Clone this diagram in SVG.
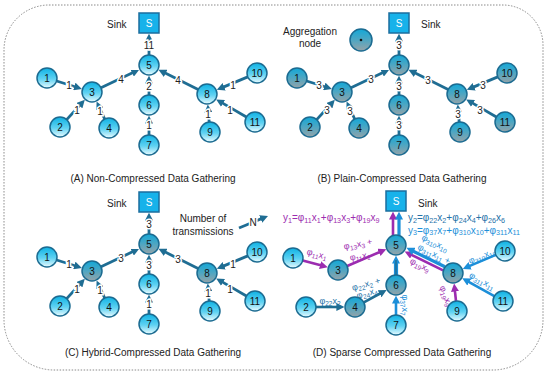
<svg xmlns="http://www.w3.org/2000/svg" width="550" height="376" viewBox="0 0 550 376">
<style>
text{font-family:"Liberation Sans",Arial,sans-serif}
.bg{fill:#fff}
.frame{fill:none;stroke:#8a8a8a;stroke-width:1;stroke-dasharray:1.5 1.5}
.c{fill:url(#gc);stroke:#1b6b91;stroke-width:1.5}
.g{fill:url(#gg);stroke:#1b6b91;stroke-width:1.5}
.nl{font-size:10px;fill:#111;text-anchor:middle;dominant-baseline:central}
.sk{fill:#17b2ea;stroke:#1b6e9e;stroke-width:1.5}
.st{font-size:10px;fill:#fff;text-anchor:middle;dominant-baseline:central}
.tx{font-size:10px;fill:#222}
.ti{font-size:10px;fill:#222;text-anchor:middle}
.e{fill:none;stroke:#1f6d93;stroke-width:2.8;marker-end:url(#aT)}
.ep{fill:none;stroke:#9c2cb0;stroke-width:2.6;marker-end:url(#aP)}
.eb{fill:none;stroke:#1c8fd9;stroke-width:2.6;marker-end:url(#aB)}
.et{fill:none;stroke:#1f6d93;stroke-width:2.6;marker-end:url(#aT)}
.lb{font-size:10px;fill:#222;stroke:#fff;stroke-width:3;paint-order:stroke;text-anchor:middle;dominant-baseline:central}
.el{font-size:9px;text-anchor:middle;dominant-baseline:central}
.eq{font-size:10px}
.s{font-size:72%}
.pu{fill:#9c2cb0}
.bl{fill:#1c8fd9}
.tl{fill:#2471a8}
</style>
<defs>
<linearGradient id="gc" x1="0" y1="0" x2="0" y2="1">
<stop offset="0" stop-color="#0fb2e4"/><stop offset="0.55" stop-color="#5fd2f2"/><stop offset="1" stop-color="#e9fbff"/>
</linearGradient>
<linearGradient id="gg" x1="0" y1="0" x2="0" y2="1">
<stop offset="0" stop-color="#12a8d8"/><stop offset="0.5" stop-color="#4ea6c2"/><stop offset="1" stop-color="#96a3a8"/>
</linearGradient>
<marker id="aT" viewBox="0 0 10 10" refX="2" refY="5" markerWidth="8" markerHeight="8" markerUnits="userSpaceOnUse" orient="auto"><path d="M0,0L10,5L0,10z" fill="#1f6d93"/></marker>
<marker id="aP" viewBox="0 0 10 10" refX="2" refY="5" markerWidth="8" markerHeight="8" markerUnits="userSpaceOnUse" orient="auto"><path d="M0,0L10,5L0,10z" fill="#9c2cb0"/></marker>
<marker id="aB" viewBox="0 0 10 10" refX="2" refY="5" markerWidth="8" markerHeight="8" markerUnits="userSpaceOnUse" orient="auto"><path d="M0,0L10,5L0,10z" fill="#1c8fd9"/></marker>
</defs>
<rect class="bg" x="0" y="0" width="550" height="376"/>
<path class="frame" d="M49,5 H503 A40,40 0 0 1 543,45 V320 A50,50 0 0 1 493,370 H54 A50,50 0 0 1 4,320 V50 A45,45 0 0 1 49,5 Z"/>

<!-- Panel A -->
<g id="panelA">
<g id="A-connectors">
<path class="e" d="M56.6,81 L75.8,87"/>
<path class="e" d="M66.7,119.6 L80.5,104.5"/>
<path class="e" d="M104.7,119 L99.3,107.4"/>
<path class="e" d="M101,87.7 L133.6,72.3"/>
<path class="e" d="M198.1,89.5 L164.2,72.6"/>
<path class="e" d="M149,95 L149,82"/>
<path class="e" d="M149,135 L149,122"/>
<path class="e" d="M149,55 L149,40"/>
<path class="e" d="M247.8,76.9 L222.7,87.4"/>
<path class="e" d="M246.4,117 L221.7,102.6"/>
<path class="e" d="M209.2,122 L208.3,110.9"/>
<text class="lb" x="69" y="85">1</text>
<text class="lb" x="77" y="110">1</text>
<text class="lb" x="100" y="111">1</text>
<text class="lb" x="121" y="79">4</text>
<text class="lb" x="178" y="80">4</text>
<text class="lb" x="149" y="86">2</text>
<text class="lb" x="149" y="125">1</text>
<text class="lb" x="149" y="45">11</text>
<text class="lb" x="233" y="85">1</text>
<text class="lb" x="230" y="110">1</text>
<text class="lb" x="208" y="114">1</text>
</g>
<g id="A-sink"><rect class="sk" x="139" y="13" width="20" height="20"/><text class="st" x="149" y="23">S</text></g>
<text class="tx" x="107" y="28">Sink</text>
<g id="A-n1"><circle class="c" cx="47" cy="78" r="10"/><text class="nl" x="47" y="78">1</text></g>
<g id="A-n2"><circle class="c" cx="60" cy="127" r="10"/><text class="nl" x="60" y="127">2</text></g>
<g id="A-n3"><circle class="c" cx="92" cy="92" r="10"/><text class="nl" x="92" y="92">3</text></g>
<g id="A-n4"><circle class="c" cx="109" cy="128" r="10"/><text class="nl" x="109" y="128">4</text></g>
<g id="A-n5"><circle class="c" cx="149" cy="65" r="10"/><text class="nl" x="149" y="65">5</text></g>
<g id="A-n6"><circle class="c" cx="149" cy="105" r="10"/><text class="nl" x="149" y="105">6</text></g>
<g id="A-n7"><circle class="c" cx="149" cy="145" r="10"/><text class="nl" x="149" y="145">7</text></g>
<g id="A-n8"><circle class="c" cx="207" cy="94" r="10"/><text class="nl" x="207" y="94">8</text></g>
<g id="A-n9"><circle class="c" cx="210" cy="132" r="10"/><text class="nl" x="210" y="132">9</text></g>
<g id="A-n10"><circle class="c" cx="257" cy="73" r="10"/><text class="nl" x="257" y="73">10</text></g>
<g id="A-n11"><circle class="c" cx="255" cy="122" r="10"/><text class="nl" x="255" y="122">11</text></g>
</g>
<text class="ti" x="153" y="182">(A) Non-Compressed Data Gathering</text>

<!-- Panel B -->
<g id="panelB" transform="translate(250,0)">
<g id="B-connectors">
<path class="e" d="M56.6,81 L75.8,87"/>
<path class="e" d="M66.7,119.6 L80.5,104.5"/>
<path class="e" d="M104.7,119 L99.3,107.4"/>
<path class="e" d="M101,87.7 L133.6,72.3"/>
<path class="e" d="M198.1,89.5 L164.2,72.6"/>
<path class="e" d="M149,95 L149,82"/>
<path class="e" d="M149,135 L149,122"/>
<path class="e" d="M149,55 L149,40"/>
<path class="e" d="M247.8,76.9 L222.7,87.4"/>
<path class="e" d="M246.4,117 L221.7,102.6"/>
<path class="e" d="M209.2,122 L208.3,110.9"/>
<text class="lb" x="69" y="85">3</text>
<text class="lb" x="77" y="110">3</text>
<text class="lb" x="100" y="111">3</text>
<text class="lb" x="121" y="79">3</text>
<text class="lb" x="178" y="80">3</text>
<text class="lb" x="149" y="86">3</text>
<text class="lb" x="149" y="125">3</text>
<text class="lb" x="149" y="45">3</text>
<text class="lb" x="233" y="85">3</text>
<text class="lb" x="230" y="110">3</text>
<text class="lb" x="208" y="114">3</text>
</g>
<g id="B-sink"><rect class="sk" x="139" y="13" width="20" height="20"/><text class="st" x="149" y="23">S</text></g>
<text class="tx" x="171" y="28">Sink</text>
<g id="B-n1"><circle class="g" cx="47" cy="78" r="10"/><text class="nl" x="47" y="78">1</text></g>
<g id="B-n2"><circle class="g" cx="60" cy="127" r="10"/><text class="nl" x="60" y="127">2</text></g>
<g id="B-n3"><circle class="g" cx="92" cy="92" r="10"/><text class="nl" x="92" y="92">3</text></g>
<g id="B-n4"><circle class="g" cx="109" cy="128" r="10"/><text class="nl" x="109" y="128">4</text></g>
<g id="B-n5"><circle class="g" cx="149" cy="65" r="10"/><text class="nl" x="149" y="65">5</text></g>
<g id="B-n6"><circle class="g" cx="149" cy="105" r="10"/><text class="nl" x="149" y="105">6</text></g>
<g id="B-n7"><circle class="g" cx="149" cy="145" r="10"/><text class="nl" x="149" y="145">7</text></g>
<g id="B-n8"><circle class="g" cx="207" cy="94" r="10"/><text class="nl" x="207" y="94">8</text></g>
<g id="B-n9"><circle class="g" cx="210" cy="132" r="10"/><text class="nl" x="210" y="132">9</text></g>
<g id="B-n10"><circle class="g" cx="257" cy="73" r="10"/><text class="nl" x="257" y="73">10</text></g>
<g id="B-n11"><circle class="g" cx="255" cy="122" r="10"/><text class="nl" x="255" y="122">11</text></g>
</g>
<g id="legend-aggregation">
<text class="ti" x="310" y="35">Aggregation</text>
<text class="ti" x="310" y="47">node</text>
<circle class="g" cx="361" cy="40" r="11"/>
<circle cx="361" cy="40" r="1.3" fill="#111"/>
</g>
<text class="ti" x="402" y="182">(B) Plain-Compressed Data Gathering</text>

<!-- Panel C -->
<g id="panelC" transform="translate(0,179)">
<g id="C-connectors">
<path class="e" d="M56.6,81 L75.8,87"/>
<path class="e" d="M66.7,119.6 L80.5,104.5"/>
<path class="e" d="M104.7,119 L99.3,107.4"/>
<path class="e" d="M101,87.7 L133.6,72.3"/>
<path class="e" d="M198.1,89.5 L164.2,72.6"/>
<path class="e" d="M149,95 L149,82"/>
<path class="e" d="M149,135 L149,122"/>
<path class="e" d="M149,55 L149,40"/>
<path class="e" d="M247.8,76.9 L222.7,87.4"/>
<path class="e" d="M246.4,117 L221.7,102.6"/>
<path class="e" d="M209.2,122 L208.3,110.9"/>
<text class="lb" x="69" y="85">1</text>
<text class="lb" x="77" y="110">1</text>
<text class="lb" x="100" y="111">1</text>
<text class="lb" x="121" y="79">3</text>
<text class="lb" x="178" y="80">3</text>
<text class="lb" x="149" y="86">3</text>
<text class="lb" x="149" y="125">1</text>
<text class="lb" x="149" y="45">3</text>
<text class="lb" x="233" y="85">1</text>
<text class="lb" x="230" y="110">1</text>
<text class="lb" x="208" y="114">1</text>
</g>
<g id="C-sink"><rect class="sk" x="139" y="13" width="20" height="20"/><text class="st" x="149" y="23">S</text></g>
<text class="tx" x="107" y="28">Sink</text>
<g id="C-n1"><circle class="c" cx="47" cy="78" r="10"/><text class="nl" x="47" y="78">1</text></g>
<g id="C-n2"><circle class="c" cx="60" cy="127" r="10"/><text class="nl" x="60" y="127">2</text></g>
<g id="C-n3"><circle class="g" cx="92" cy="92" r="10"/><text class="nl" x="92" y="92">3</text></g>
<g id="C-n4"><circle class="c" cx="109" cy="128" r="10"/><text class="nl" x="109" y="128">4</text></g>
<g id="C-n5"><circle class="g" cx="149" cy="65" r="10"/><text class="nl" x="149" y="65">5</text></g>
<g id="C-n6"><circle class="c" cx="149" cy="105" r="10"/><text class="nl" x="149" y="105">6</text></g>
<g id="C-n7"><circle class="c" cx="149" cy="145" r="10"/><text class="nl" x="149" y="145">7</text></g>
<g id="C-n8"><circle class="g" cx="207" cy="94" r="10"/><text class="nl" x="207" y="94">8</text></g>
<g id="C-n9"><circle class="c" cx="210" cy="132" r="10"/><text class="nl" x="210" y="132">9</text></g>
<g id="C-n10"><circle class="c" cx="257" cy="73" r="10"/><text class="nl" x="257" y="73">10</text></g>
<g id="C-n11"><circle class="c" cx="255" cy="122" r="10"/><text class="nl" x="255" y="122">11</text></g>
</g>
<g id="legend-transmissions">
<text class="ti" x="203" y="222">Number of</text>
<text class="ti" x="203" y="235">transmissions</text>
<path class="e" d="M239,228 L262.1,218.4"/>
<text class="lb" x="253" y="222">N</text>
</g>
<text class="ti" x="153" y="356">(C) Hybrid-Compressed Data Gathering</text>

<!-- Panel D -->
<g id="panelD">
<g id="D-connectors">
<path class="ep" d="M302.7,260.6 L321.6,265.6"/>
<path class="ep" d="M347.2,266 L380.4,251.7"/>
<path class="et" d="M316,307 L338,307"/>
<path class="et" d="M363.8,302.3 L381,293"/>
<path class="eb" d="M396,315 L396,302"/>
<path class="eb" style="stroke-width:4.2" d="M396,275 L396,262"/>
<path d="M396,275 L396,260" stroke="#1f6d93" stroke-width="1.4" fill="none"/>
<path class="ep" d="M393,235.5 L393,218"/>
<path class="eb" style="stroke-width:3.2" d="M399,235.5 L399,218"/>
<path class="ep" d="M443.1,270.4 L410.4,254.3"/>
<path class="eb" style="stroke-width:3.2" d="M444.9,266.8 L412.2,250.7"/>
<path class="eb" d="M495.8,254.9 L468.6,266.4"/>
<path class="eb" d="M494.3,296.1 L467.8,281.3"/>
<path class="ep" d="M456,301 L454.8,289.9"/>
</g>
<g id="D-labels">
<text class="el pu" transform="translate(317,254) rotate(15)">φ<tspan class="s" dy="2">11</tspan><tspan dy="-2">x</tspan><tspan class="s" dy="2">1</tspan></text>
<text class="el pu" transform="translate(358,244) rotate(-10)">φ<tspan class="s" dy="2">13</tspan><tspan dy="-2">x</tspan><tspan class="s" dy="2">3</tspan><tspan dy="-2"> +</tspan></text>
<text class="el pu" transform="translate(360,256) rotate(-8)">φ<tspan class="s" dy="2">11</tspan><tspan dy="-2">x</tspan><tspan class="s" dy="2">1</tspan></text>
<text class="el bl" transform="translate(435,243) rotate(26)">φ<tspan class="s" dy="2">310</tspan><tspan dy="-2">x</tspan><tspan class="s" dy="2">10</tspan></text>
<text class="el bl" transform="translate(434,254) rotate(26)">φ<tspan class="s" dy="2">311</tspan><tspan dy="-2">x</tspan><tspan class="s" dy="2">11</tspan><tspan dy="-2"> +</tspan></text>
<text class="el pu" transform="translate(420,265) rotate(26)">φ<tspan class="s" dy="2">19</tspan><tspan dy="-2">x</tspan><tspan class="s" dy="2">9</tspan></text>
<text class="el bl" transform="translate(482,256) rotate(-22)">φ<tspan class="s" dy="2">310</tspan><tspan dy="-2">x</tspan><tspan class="s" dy="2">10</tspan></text>
<text class="el bl" transform="translate(482,281) rotate(29)">φ<tspan class="s" dy="2">311</tspan><tspan dy="-2">x</tspan><tspan class="s" dy="2">11</tspan></text>
<text class="el pu" transform="translate(446,296) rotate(70)">φ<tspan class="s" dy="2">19</tspan><tspan dy="-2">x</tspan><tspan class="s" dy="2">9</tspan></text>
<text class="el bl" transform="translate(405,305) rotate(90)">φ<tspan class="s" dy="2">37</tspan><tspan dy="-2">x</tspan><tspan class="s" dy="2">7</tspan></text>
<text class="el tl" transform="translate(330,301)">φ<tspan class="s" dy="2">22</tspan><tspan dy="-2">x</tspan><tspan class="s" dy="2">2</tspan></text>
<text class="el tl" transform="translate(366,284) rotate(-15)">φ<tspan class="s" dy="2">22</tspan><tspan dy="-2">x</tspan><tspan class="s" dy="2">2</tspan><tspan dy="-2"> +</tspan></text>
<text class="el tl" transform="translate(367,293) rotate(-15)">φ<tspan class="s" dy="2">24</tspan><tspan dy="-2">x</tspan><tspan class="s" dy="2">4</tspan></text>
<text class="eq pu" x="283" y="221">y<tspan class="s" dy="1.5">1</tspan><tspan dy="-1.5">=φ</tspan><tspan class="s" dy="1.5">11</tspan><tspan dy="-1.5">x</tspan><tspan class="s" dy="1.5">1</tspan><tspan dy="-1.5">+φ</tspan><tspan class="s" dy="1.5">13</tspan><tspan dy="-1.5">x</tspan><tspan class="s" dy="1.5">3</tspan><tspan dy="-1.5">+φ</tspan><tspan class="s" dy="1.5">19</tspan><tspan dy="-1.5">x</tspan><tspan class="s" dy="1.5">9</tspan></text>
<text class="eq tl" x="408" y="221">y<tspan class="s" dy="1.5">2</tspan><tspan dy="-1.5">=φ</tspan><tspan class="s" dy="1.5">22</tspan><tspan dy="-1.5">x</tspan><tspan class="s" dy="1.5">2</tspan><tspan dy="-1.5">+φ</tspan><tspan class="s" dy="1.5">24</tspan><tspan dy="-1.5">x</tspan><tspan class="s" dy="1.5">4</tspan><tspan dy="-1.5">+φ</tspan><tspan class="s" dy="1.5">26</tspan><tspan dy="-1.5">x</tspan><tspan class="s" dy="1.5">6</tspan></text>
<text class="eq bl" x="408" y="233.5">y<tspan class="s" dy="1.5">3</tspan><tspan dy="-1.5">=φ</tspan><tspan class="s" dy="1.5">37</tspan><tspan dy="-1.5">x</tspan><tspan class="s" dy="1.5">7</tspan><tspan dy="-1.5">+φ</tspan><tspan class="s" dy="1.5">310</tspan><tspan dy="-1.5">x</tspan><tspan class="s" dy="1.5">10</tspan><tspan dy="-1.5">+φ</tspan><tspan class="s" dy="1.5">311</tspan><tspan dy="-1.5">x</tspan><tspan class="s" dy="1.5">11</tspan></text>
</g>
<g id="D-sink"><rect class="sk" x="386" y="191" width="20" height="20"/><text class="st" x="396" y="201">S</text></g>
<text class="tx" x="418" y="207">Sink</text>
<g id="D-n1"><circle class="c" cx="293" cy="258" r="10"/><text class="nl" x="293" y="258">1</text></g>
<g id="D-n2"><circle class="c" cx="306" cy="307" r="10"/><text class="nl" x="306" y="307">2</text></g>
<g id="D-n3"><circle class="g" cx="338" cy="270" r="10"/><text class="nl" x="338" y="270">3</text></g>
<g id="D-n4"><circle class="g" cx="355" cy="307" r="10"/><text class="nl" x="355" y="307">4</text></g>
<g id="D-n5"><circle class="g" cx="396" cy="245" r="10"/><text class="nl" x="396" y="245">5</text></g>
<g id="D-n6"><circle class="g" cx="396" cy="285" r="10"/><text class="nl" x="396" y="285">6</text></g>
<g id="D-n7"><circle class="c" cx="396" cy="325" r="10"/><text class="nl" x="396" y="325">7</text></g>
<g id="D-n8"><circle class="g" cx="453" cy="273" r="10"/><text class="nl" x="453" y="273">8</text></g>
<g id="D-n9"><circle class="c" cx="457" cy="311" r="10"/><text class="nl" x="457" y="311">9</text></g>
<g id="D-n10"><circle class="c" cx="505" cy="251" r="10"/><text class="nl" x="505" y="251">10</text></g>
<g id="D-n11"><circle class="c" cx="503" cy="301" r="10"/><text class="nl" x="503" y="301">11</text></g>
</g>
<text class="ti" x="402" y="356">(D) Sparse Compressed Data Gathering</text>
</svg>
